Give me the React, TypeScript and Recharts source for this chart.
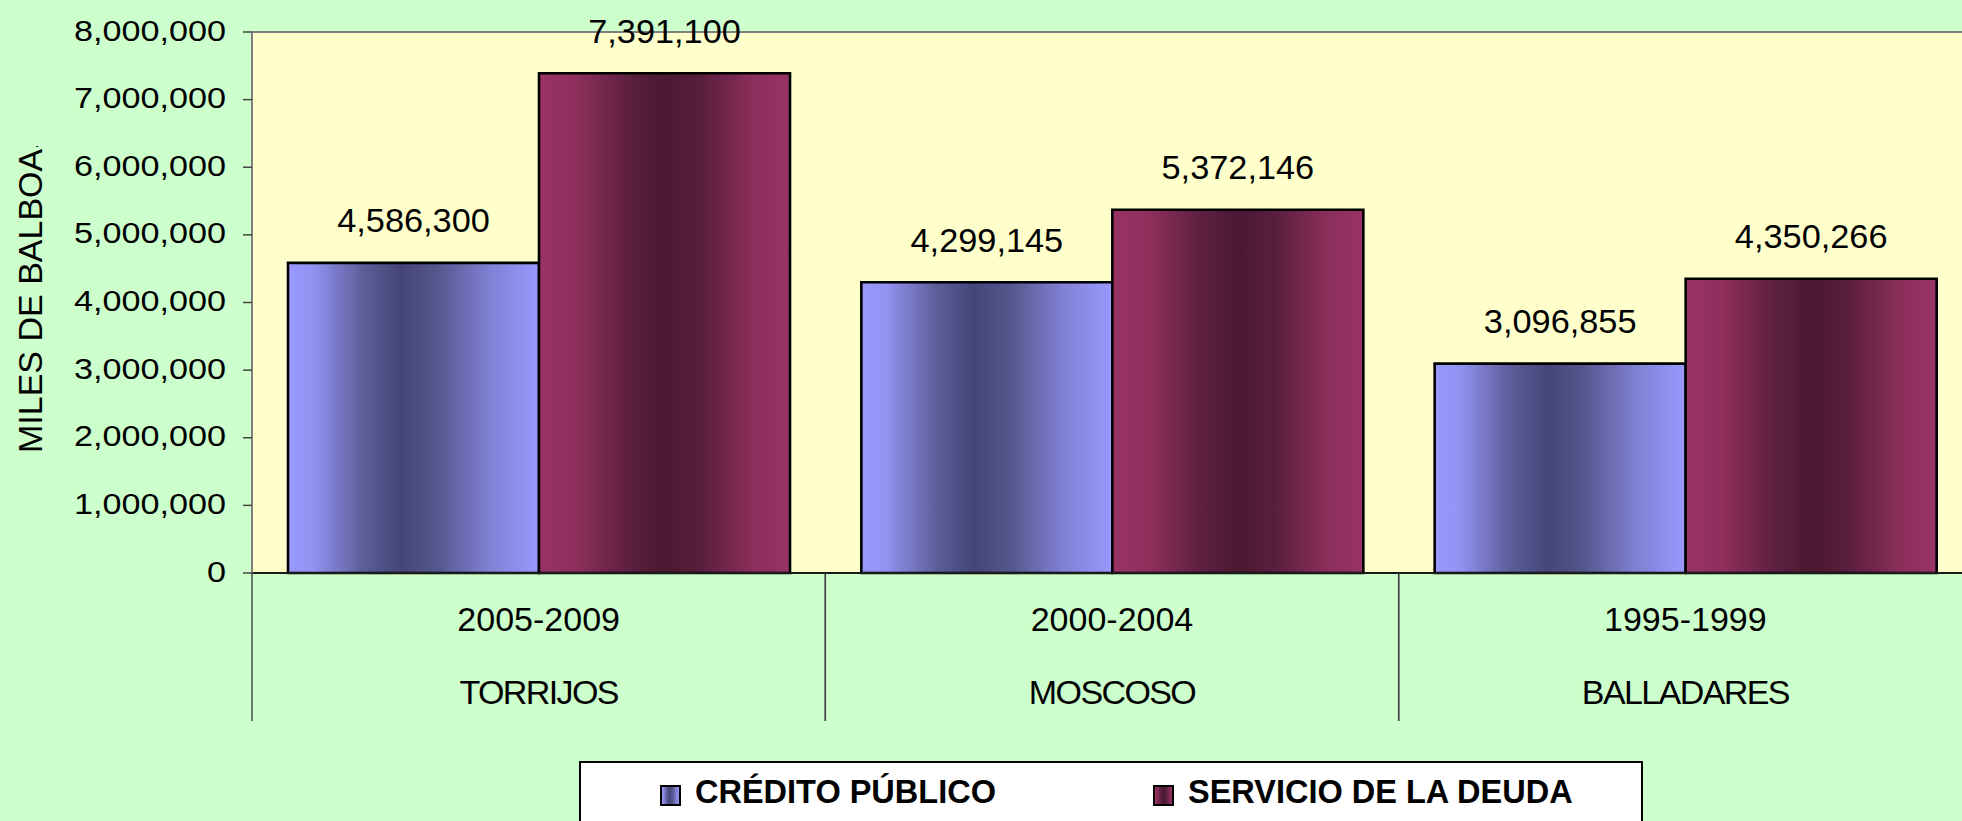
import React from 'react';
import { BarChart, Bar, XAxis, YAxis, CartesianGrid, ReferenceLine, LabelList, Legend } from 'recharts';

const periods = ['2005-2009', '2000-2004', '1995-1999'];
const presidents = ['TORRIJOS', 'MOSCOSO', 'BALLADARES'];
const creditoPublico = [4586300, 4299145, 3096855];
const servicioDeuda = [7391100, 5372146, 4350266];
const yTicks = [0, 1000000, 2000000, 3000000, 4000000, 5000000, 6000000, 7000000, 8000000];
const seriesNames = ['CRÉDITO PÚBLICO', 'SERVICIO DE LA DEUDA'];
const yTitle = 'MILES DE BALBOAS';

const data = periods.map((p, i) => ({
  period: p,
  president: presidents[i],
  credito: creditoPublico[i],
  servicio: servicioDeuda[i],
}));

const FONT = '"Liberation Sans", Arial, Helvetica, sans-serif';
const fmt = (v: number) => Number(v).toLocaleString('en-US');

const credStops: [number, string][] = [
  [0, '#9999FF'], [0.1, '#9292F2'], [0.3, '#5D5D99'], [0.45, '#45457A'],
  [0.6, '#57578F'], [0.8, '#8080D4'], [1, '#9999FF'],
];
const servStops: [number, string][] = [
  [0, '#993366'], [0.15, '#8E2F5C'], [0.35, '#5E2040'], [0.5, '#4A1833'],
  [0.65, '#5A1E3D'], [0.85, '#8A2E5A'], [1, '#993366'],
];

const Grad = ({ id, stops }: { id: string; stops: [number, string][] }) => (
  <linearGradient id={id} x1="0" y1="0" x2="1" y2="0">
    {stops.map(([o, c]) => (
      <stop key={o} offset={`${o * 100}%`} stopColor={c} />
    ))}
  </linearGradient>
);

const YTick = (props: any) => {
  const { x, y, payload } = props;
  return (
    <g transform={`translate(${x},${y})`}>
      <text transform="scale(1.14,1)" textAnchor="end" dy={8.5} fontSize={30} fill="#000" fontFamily={FONT}>
        {fmt(payload.value)}
      </text>
    </g>
  );
};

const XTick = (props: any) => {
  const { x, y, payload, index } = props;
  const half = payload && payload.offset ? payload.offset : 0;
  const i = typeof index === 'number' ? index : periods.indexOf(payload.value);
  return (
    <g>
      <line x1={x - half} x2={x - half} y1={y} y2={y + 148} stroke="#404040" strokeWidth={1.4} />
      <line x1={x + half} x2={x + half} y1={y} y2={y + 148} stroke="#404040" strokeWidth={1.4} />
      <text x={x} y={y + 57.5} textAnchor="middle" fontSize={34} fill="#000" fontFamily={FONT}>
        {payload.value}
      </text>
      <text x={x} y={y + 131} textAnchor="middle" fontSize={34} letterSpacing={-1.6} fill="#000" fontFamily={FONT}>
        {presidents[i]}
      </text>
    </g>
  );
};

const ValueLabel = (props: any) => {
  const { x, y, width, value } = props;
  const cx = x + width / 2;
  return (
    <g transform={`translate(${cx},${y - 30.5})`}>
      <text transform="scale(1.04,1)" textAnchor="middle" fontSize={33} fill="#000" fontFamily={FONT}>
        {fmt(value)}
      </text>
    </g>
  );
};

const YTitle = () => (
  <g>
    <defs>
      <clipPath id="ytitleClip">
        <rect x={0} y={146} width={80} height={400} />
      </clipPath>
    </defs>
    <g clipPath="url(#ytitleClip)">
      <text transform="translate(41.5,453) rotate(-90)" textAnchor="start" fontSize={34} fill="#000" fontFamily={FONT}>
        {yTitle}
      </text>
    </g>
  </g>
);

const markerStops = [credStops, servStops];
const markerLeft = [80, 573];

const LegendContent = () => (
  <div style={{ position: 'relative', width: '100%', height: '100%' }}>
    {seriesNames.map((name, i) => (
      <div key={name}>
        <svg
          width={21}
          height={21}
          style={{ position: 'absolute', left: markerLeft[i] - 1, top: 22 }}
        >
          <defs>
            <Grad id={`legGrad${i}`} stops={markerStops[i]} />
          </defs>
          <rect x={1} y={1} width={19} height={19} fill={`url(#legGrad${i})`} stroke="#000" strokeWidth={2} />
        </svg>
        <span
          style={{
            position: 'absolute',
            left: markerLeft[i] + 34,
            top: 11,
            fontFamily: FONT,
            fontWeight: 'bold',
            fontSize: 32.5,
            lineHeight: '36px',
            whiteSpace: 'nowrap',
            color: '#000',
          }}
        >
          {name}
        </span>
      </div>
    ))}
  </div>
);

export default function App() {
  return (
    <div
      style={{
        position: 'absolute',
        left: 0,
        top: 0,
        width: 1962,
        height: 821,
        overflow: 'hidden',
        background: '#CCFFCC',
      }}
    >
      <BarChart
        width={1972}
        height={821}
        data={data}
        margin={{ top: 32, right: 0, bottom: 0, left: 0 }}
        barCategoryGap={36}
        barGap={0}
      >
        <defs>
          <Grad id="gradCredito" stops={credStops} />
          <Grad id="gradServicio" stops={servStops} />
        </defs>
        <CartesianGrid fill="#FFFFCC" horizontal={false} vertical={false} />
        <XAxis
          dataKey="period"
          height={248}
          tickLine={false}
          tickSize={0}
          tickMargin={0}
          interval={0}
          axisLine={{ stroke: '#1a1a1a', strokeWidth: 2 }}
          tick={<XTick />}
        />
        <YAxis
          type="number"
          width={252}
          domain={[0, 8000000]}
          ticks={yTicks}
          interval={0}
          tickSize={9}
          tickMargin={17}
          tickLine={{ stroke: '#444', strokeWidth: 1.5 }}
          axisLine={{ stroke: '#808080', strokeWidth: 2 }}
          tick={<YTick />}
          label={{ content: <YTitle /> }}
        />
        <ReferenceLine y={8000000} stroke="#808080" strokeWidth={2} />
        <Legend
          layout="horizontal"
          verticalAlign="middle"
          align="center"
          content={<LegendContent />}
          wrapperStyle={{
            position: 'absolute',
            left: 579,
            top: 761,
            width: 1064,
            height: 90,
            background: '#FFFFFF',
            border: '2px solid #000',
            boxSizing: 'border-box',
          }}
        />
        <Bar
          dataKey="credito"
          name={seriesNames[0]}
          fill="url(#gradCredito)"
          stroke="#000"
          strokeWidth={2.6}
          isAnimationActive={false}
        >
          <LabelList dataKey="credito" content={<ValueLabel />} />
        </Bar>
        <Bar
          dataKey="servicio"
          name={seriesNames[1]}
          fill="url(#gradServicio)"
          stroke="#000"
          strokeWidth={2.6}
          isAnimationActive={false}
        >
          <LabelList dataKey="servicio" content={<ValueLabel />} />
        </Bar>
      </BarChart>
    </div>
  );
}
